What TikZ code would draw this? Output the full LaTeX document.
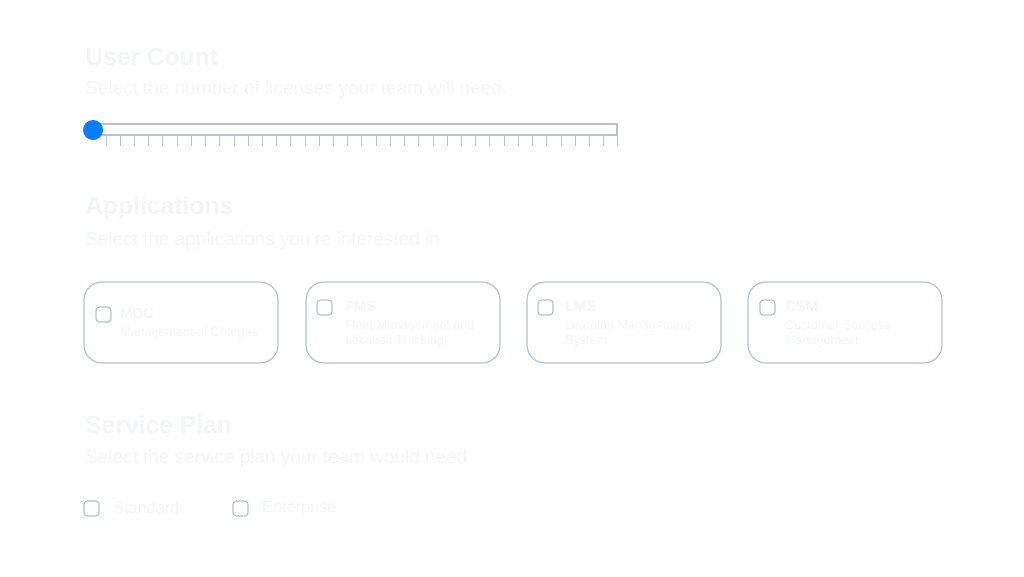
\documentclass[tikz,border=0pt]{standalone}
\usepackage{fontspec}
\setmainfont{Liberation Sans}
\definecolor{txt}{HTML}{F4F5F7}
\definecolor{bord}{HTML}{B9C1CD}
\definecolor{knob}{HTML}{0A7CFF}
\tikzset{
  ttl/.style={anchor=west, inner sep=0pt, text=txt, font=\fontsize{18.5}{20}\selectfont\bfseries},
  sub/.style={anchor=west, inner sep=0pt, text=txt, font=\fontsize{14.2}{16}\selectfont},
  ctitle/.style={anchor=west, inner sep=0pt, text=txt, font=\fontsize{11}{13}\selectfont\bfseries},
  cdesc/.style={anchor=west, inner sep=0pt, text=txt, align=left, font=\fontsize{9.4}{11.25}\selectfont},
  opt/.style={anchor=west, inner sep=0pt, text=txt, font=\fontsize{12.2}{14}\selectfont},
  card/.style={draw=bord, line width=0.9pt, rounded corners=13.5pt, minimum width=145.5pt, minimum height=60.75pt, inner sep=0pt},
  cbox/.style={draw=bord, line width=0.9pt, rounded corners=2.5pt, minimum size=11.25pt, inner sep=0pt},
  bar/.style={draw=bord, line width=0.8pt, minimum width=393pt, minimum height=8.25pt, inner sep=0pt},
  tick/.style={draw=bord, line width=0.7pt},
  knobstyle/.style={circle, fill=knob, minimum size=15pt, inner sep=0pt}
}
\begin{document}
\begin{tikzpicture}[x=0.75pt,y=-0.75pt]
\fill[white] (0,0) rectangle (1024,576);
\useasboundingbox (0,0) rectangle (1024,576);

% User Count
\node[ttl] (t1) at (85,57) {User Count};
\node[sub] (s1) at (85,90) {Select the number of licenses your team will need.};
\node[bar] (bar) at (355,129.5) {};
\foreach \i in {0,...,36} {
  \draw[tick] ({106+14.22*\i},135) -- ({106+14.22*\i},146);
}
\node[knobstyle] (knob) at (93,130) {};

% Applications
\node[ttl] (t2) at (85,208) {Applications};
\node[sub] (s2) at (85,241) {Select the applications you're interested in};

\node[card] (c1) at (181,322.5) {};
\node[card] (c2) at (403,322.5) {};
\node[card] (c3) at (624,322.5) {};
\node[card] (c4) at (845,322.5) {};

\node[cbox] (b1) at (103.5,314.5) {};
\node[ctitle] (h1) at (120,313) {MDC};
\node[cdesc] (d1) at (120,333) {Management of Charges};

\node[cbox] (b2) at (324.5,307.5) {};
\node[ctitle] (h2) at (345,306) {FMS};
\node[cdesc] (d2) at (345,333.5) {Fleet Management and\\Location Tracking};

\node[cbox] (b3) at (545.5,307.5) {};
\node[ctitle] (h3) at (565,306) {LMS};
\node[cdesc] (d3) at (565,333.5) {Learning Management\\System};

\node[cbox] (b4) at (767.5,307.5) {};
\node[ctitle] (h4) at (785,306) {CSM};
\node[cdesc] (d4) at (785,333.5) {Customer Success\\Management};

% Service Plan
\node[ttl] (t3) at (85,425) {Service Plan};
\node[sub] (s3) at (85,459) {Select the service plan your team would need};

\node[cbox] (o1) at (91.5,508.5) {};
\node[opt] (l1) at (113,508) {Standard};
\node[cbox] (o2) at (240.5,508.5) {};
\node[opt] (l2) at (262,508) {Enterprise};
\end{tikzpicture}
\end{document}
